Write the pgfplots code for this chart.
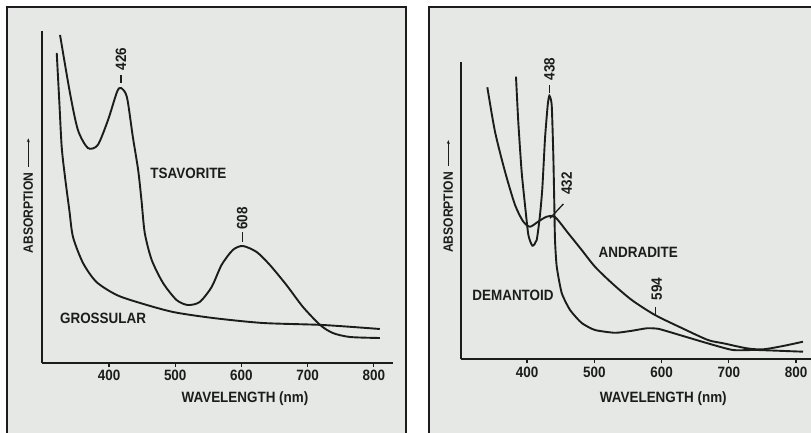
\documentclass[border=0pt]{standalone}
\usepackage{pgfplots}
\pgfplotsset{compat=1.18}
\usetikzlibrary{arrows.meta}
\usepackage{fontspec}
\setmainfont{Liberation Sans}[FakeStretch=0.9, UprightFont=*-Bold]
\definecolor{paper}{RGB}{229,232,229}
\definecolor{ink}{RGB}{28,28,28}
\pgfplotsset{
  garnet/.style={
    scale only axis, clip=false,
    axis lines=left, axis line style={-, line width=1.7bp, ink},
    ymin=0, ytick=\empty,
    xtick={400,500,600,700,800},
    tick align=outside, major tick length=4bp,
    tick style={line width=1.3bp, ink},
    xticklabel style={font=\fontsize{15}{17}\selectfont, text=ink},
    /pgf/number format/assume math mode=true,
  },
  curve/.style={ink, line width=1.9bp, smooth, tension=0.45, mark=none},
}
\begin{document}
\begin{tikzpicture}[x=1bp,y=1bp, font=\fontsize{15}{17}\selectfont]
\useasboundingbox (0,0) rectangle (811,433);
\fill[white] (0,0) rectangle (811,433);
\fill[paper] (7,0) rectangle (406,426);
\fill[paper] (429,0) rectangle (811,426);
\draw[ink, line width=1.7bp] (7,0) -- (7,426) -- (406,426) -- (406,0);
\draw[ink, line width=1.7bp] (429,0) -- (429,426) -- (815,426);

% ---------------- left panel ----------------
\begin{axis}[garnet, at={(42.3bp,70bp)}, anchor=south west,
  width=350.7bp, height=332bp, xmin=299.2, xmax=829, ymax=332]
\addplot[curve] coordinates {(326,328) (341,270) (353,233) (368,215) (383,218) (398.5,243) (412,271) (418,275) (427,266) (436,226) (444,193) (449,163) (454,130) (464.5,103) (481.6,80) (502,63) (519,58) (537,61) (555,76) (570,98) (587,113) (602,117) (623,111) (643,98) (668,78) (693,56) (719,38) (738,30) (764,26) (809,25)};
\addplot[curve] coordinates {(321,310) (325,260) (328.5,216) (333.5,186) (340,153) (345.6,126) (360.7,100) (381,81) (411.6,68) (447,60) (496.7,51) (557,45) (632.6,40) (723,38) (809,34)};
\draw[ink, line width=1.3bp] (axis cs:418,280) -- (axis cs:418,288);
\node[rotate=90, text=ink] at (axis cs:418,304) {426};
\draw[ink, line width=1.3bp] (axis cs:601.4,121) -- (axis cs:601.4,131);
\node[rotate=90, text=ink] at (axis cs:601.4,144.5) {608};
\node[text=ink] at (axis cs:520,190) {TSAVORITE};
\node[text=ink] at (axis cs:391,44.7) {GROSSULAR};
\end{axis}

% ---------------- right panel ----------------
\begin{axis}[garnet, at={(460.7bp,73.7bp)}, anchor=south west,
  width=350.3bp, height=297.3bp, xmin=301.4, xmax=822.3, ymax=297.3]
\addplot[curve] coordinates {(341,272) (352.4,227.6) (367.3,187.6) (382.2,154.3) (394.5,137.6) (404.5,132.6) (416.4,137.6) (429.3,142.6) (441.6,142.3) (461,126.3) (481.3,109.3) (501,92.6) (526,76.3) (555.7,59.3) (590.3,44.3) (630,31.3) (669,19.3) (692,16) (726.7,11) (751,10) (780.7,13.3) (810.4,17.6)};
\addplot[curve, tension=0.35] coordinates {(383.6,282.6) (387,237.6) (392,187.6) (397,154.3) (402,124.3) (408,113.6) (414.4,119.3) (419.3,144.3) (422.8,171.3) (426.8,221.3) (430.8,254.3) (433.2,263.6) (436.7,254.3) (439.1,204.3) (440.6,154.3) (441.6,119.3) (444.2,92.6) (451.6,66.3) (464,49.3) (481.3,36.3) (501,29.3) (530.9,26.5) (555.7,28.5) (578,31) (595,30.5) (617,26.3) (667,16.3) (706,9.3) (741.5,9.3) (810.4,7.6)};
\draw[ink, line width=1.3bp] (axis cs:433.5,266) -- (axis cs:433.5,274);
\node[rotate=90, text=ink] at (axis cs:433.5,290.3) {438};
\draw[ink, line width=1.3bp] (axis cs:434.2,141) -- (axis cs:454,155.3);
\node[rotate=90, text=ink] at (axis cs:459,176) {432};
\draw[ink, line width=1.3bp] (axis cs:591,44.3) -- (axis cs:591,52.6);
\node[rotate=90, text=ink] at (axis cs:592.9,70.3) {594};
\node[text=ink] at (axis cs:565.5,106.6) {ANDRADITE};
\node[text=ink] at (axis cs:379.2,63.6) {DEMANTOID};
\end{axis}

% axis titles
\node[text=ink] at (245,34.7) {WAVELENGTH (nm)};
\node[text=ink] at (663.3,34.7) {WAVELENGTH (nm)};
\node[rotate=90, text=ink, font=\fontsize{13.5}{15}\selectfont] at (28.3,220) {ABSORPTION};
\draw[ink, line width=0.8bp, -{Stealth[length=4bp,width=3bp]}] (28.3,266) -- (28.3,294.7);
\node[rotate=90, text=ink, font=\fontsize{13.5}{15}\selectfont] at (448.3,220.5) {ABSORPTION};
\draw[ink, line width=0.8bp, -{Stealth[length=4bp,width=3bp]}] (448.3,267) -- (448.3,293);
\end{tikzpicture}
\end{document}
